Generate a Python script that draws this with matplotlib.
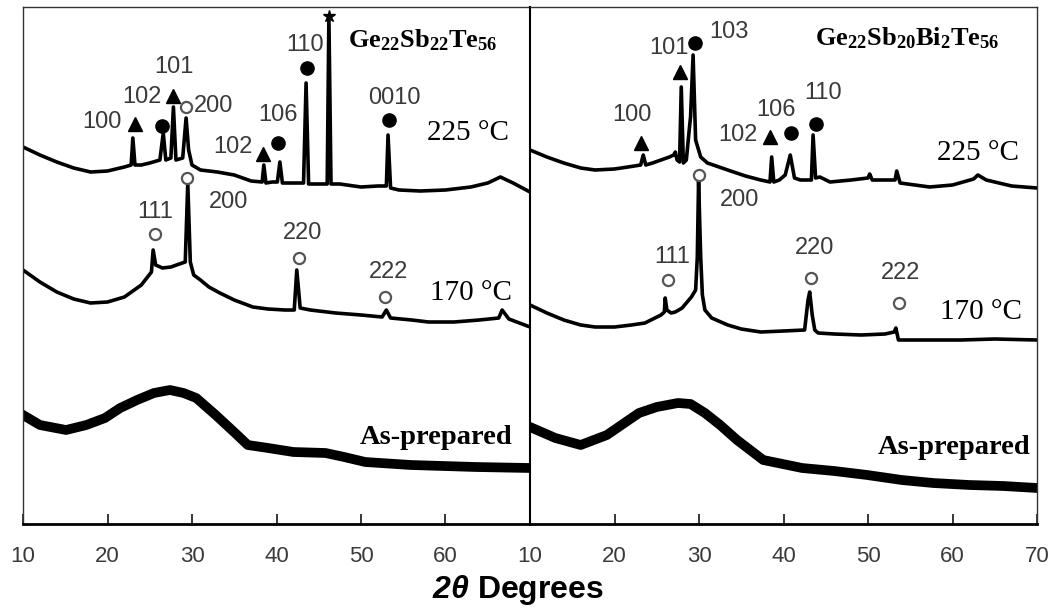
import matplotlib
matplotlib.use("Agg")
import matplotlib.pyplot as plt

plt.rcParams['mathtext.fontset'] = 'custom'
plt.rcParams['mathtext.rm'] = 'Liberation Serif:bold'
plt.rcParams['mathtext.bf'] = 'Liberation Sans:bold:italic'

# XRD patterns, intensity in arbitrary units (offset stacked)
# Ge22Sb22Te56
l225_x = [10, 12, 14, 16, 18, 20, 22, 22.8, 23.0, 23.25, 24, 25, 26.2, 26.6, 26.9, 27.5, 27.8, 28.1,
          28.9, 29.3, 29.6, 30, 31, 33, 35, 37, 38.3, 38.5, 38.75, 39.5, 40.1, 40.4, 40.7, 41.5,
          43.2, 43.5, 43.8, 45, 46.0, 46.2, 46.45, 47.5, 50, 52, 53.0, 53.2, 53.5, 54.5, 57, 60,
          63, 65, 66.5, 68, 70]
l225_y = [377, 369, 362, 356, 352, 353, 357, 359, 386, 359, 359, 361, 364, 391, 364, 366, 417, 364,
          366, 406, 374, 359, 354, 352, 349, 343, 342, 359, 341, 342, 342, 362, 341, 341,
          341, 441, 340, 340, 340, 508, 340, 340, 337, 338, 338, 389, 336, 334, 333, 334,
          337, 341, 347, 341, 332]

l170_x = [10, 12, 14, 16, 18, 20, 22, 24, 25.2, 25.4, 25.7, 26.5, 27.5, 28.5, 29.2, 29.5, 29.8, 30.2,
          31, 32, 33.3, 35, 37.2, 39, 41, 42.1, 42.4, 42.8, 44, 47, 50, 52.5, 53, 53.5, 56, 58,
          61, 64, 66.3, 66.7, 67.5, 70]
l170_y = [254, 242, 232, 225, 221, 222, 227, 239, 252, 274, 259, 256, 257, 260, 262, 341, 262, 249,
          244, 237, 231, 224, 217, 215, 214, 214, 254, 216, 214, 211, 209, 207, 214, 206, 204, 202,
          202, 204, 206, 214, 205, 197]

lap_x = [10, 12, 15.1, 17.5, 19.7, 21.5, 23.5, 25.5, 27.4, 29, 30.5, 32.8, 35.1, 36.6, 39, 42,
         45.8, 48, 50.5, 55.9, 63.6, 70]
lap_y = [109, 99, 94, 99, 106, 116, 124, 131, 134, 131, 126, 109, 91, 79, 76, 72,
         71, 67, 62, 59, 57, 56]

# Ge22Sb20Bi2Te56
r225_x = [10, 12, 14, 16, 17.7, 20, 21.6, 23.1, 23.4, 23.7, 24.5, 25.5, 26.5, 27.0, 27.2, 27.4,
          27.7, 27.9, 28.15, 28.5, 28.9, 29.0, 29.3, 29.6, 30.2, 31, 33.4, 35.5, 37.3, 38.4,
          38.6, 38.85, 39.5, 40.2, 40.8, 41.3, 42, 43.3, 43.5, 43.8, 44.3, 45.5, 48, 50, 50.2,
          50.5, 53.2, 53.4, 53.8, 57.3, 60, 62.5, 63, 64, 67, 70]
r225_y = [374, 367, 361, 356, 354, 355, 357, 359, 369, 359, 361, 364, 367, 369, 372, 364,
          362, 437, 361, 364, 399, 407, 469, 384, 367, 361, 354, 348, 344, 342,
          367, 342, 344, 349, 369, 346, 344, 344, 389, 346, 347, 342, 344, 346, 350,
          344, 344, 353, 341, 337, 339, 345, 349, 344, 338, 336]

r170_x = [10, 12, 14, 16, 17.7, 20, 22, 23.6, 25.5, 25.9, 26.0, 26.2, 26.7, 27.2, 28, 29.1, 29.6,
          29.8, 29.95, 30.2, 30.4, 30.7, 31.5, 33.4, 35, 37.3, 40, 42.5, 42.9, 43.1, 43.4, 43.7,
          44.1, 46, 49.2, 52, 53.1, 53.3, 53.6, 55, 61, 65, 70]
r170_y = [219, 211, 204, 199, 197, 197, 199, 201, 209, 212, 226, 214, 211, 212, 216, 227, 234,
          267, 344, 267, 229, 214, 206, 199, 195, 192, 193, 194, 224, 232, 209, 194,
          191, 190, 189, 190, 192, 196, 184, 184, 184, 185, 184]

rap_x = [10, 13, 16, 19.1, 21, 22.9, 25, 27.5, 29, 30.7, 32.5, 34.5, 37.6, 42.2, 46, 49.9,
         54, 57.7, 62, 66, 70]
rap_y = [97, 86, 79, 89, 100, 111, 117, 121, 120, 111, 99, 84, 64, 56, 53, 49,
         44, 41, 39, 38, 36]

# peak labels: (text, x, y)
l_labels = [("100", 19.35, 402), ("102", 24.1, 427), ("101", 27.9, 457), ("200", 32.5, 418),
            ("102", 34.85, 377), ("106", 40.2, 409), ("110", 43.4, 479), ("0010", 54.0, 426),
            ("200", 34.3, 322), ("111", 25.7, 312), ("220", 43.1, 291), ("222", 53.3, 252)]
l_tri = ([23.25, 27.75, 38.4], [400, 428, 370])
l_dot = ([26.45, 40.2, 43.6, 53.3], [398, 381, 456, 404])
l_ring = ([29.3, 29.4, 25.6, 42.7, 52.8], [417, 346, 290, 266, 227])
l_star = ([46.2], [508])

r_labels = [("100", 22.1, 409), ("101", 26.45, 476), ("103", 33.55, 492), ("102", 34.6, 389),
            ("106", 39.1, 414), ("110", 44.7, 431), ("200", 34.85, 324), ("111", 26.8, 267),
            ("220", 43.7, 276), ("222", 53.8, 251)]
r_tri = ([23.1, 27.75, 38.4], [381, 452, 387])
r_dot = ([29.5, 40.9, 43.85], [481, 391, 400])
r_ring = ([30.0, 26.3, 43.25, 53.7], [349, 244, 246, 221])

ticks = [10, 20, 30, 40, 50, 60, 70]

fig = plt.figure(figsize=(10.49, 6.08), dpi=100)
ax1 = fig.add_axes([23 / 1049, 84 / 608, 507 / 1049, 517 / 608])
ax2 = fig.add_axes([530 / 1049, 84 / 608, 507 / 1049, 517 / 608])

serif = 'Liberation Serif'
sans = 'Liberation Sans'
grey = '#3a3a3a'


def draw_panel(ax, curves, labels, tri, dot, ring, star, formula, f_x, f_y, t225, t170, asp):
    for (x, y), lw in zip(curves, [2.6, 2.6, 7.0]):
        ax.plot(x, y, color='black', lw=lw, solid_joinstyle='round')
    for txt, x, y in labels:
        ax.text(x, y, txt, ha='center', va='center', fontsize=17, family=sans, color=grey)
    ax.plot(*tri, ls='none', marker='^', ms=9.5, color='black')
    ax.plot(*dot, ls='none', marker='o', ms=9.5, color='black')
    ax.plot(*ring, ls='none', marker='o', ms=8, mfc='white', mec='#555555', mew=1.6)
    if star:
        ax.plot(*star, ls='none', marker='*', ms=9, color='black')
    ax.text(f_x, f_y, formula, ha='left', va='center', fontsize=19)
    ax.text(t225[0], t225[1], '225 °C', ha='left', va='center', fontsize=21, family=serif)
    ax.text(t170[0], t170[1], '170 °C', ha='left', va='center', fontsize=21, family=serif)
    ax.text(asp[0], asp[1], 'As-prepared', ha='left', va='center', fontsize=20.5,
            family=serif, fontweight='bold')
    ax.set_xlim(10, 70)
    ax.set_ylim(0, 517)
    ax.set_yticks([])
    ax.set_xticks(ticks)
    ax.tick_params(axis='x', direction='in', length=7, width=1.1, pad=16,
                   labelsize=16, labelcolor=grey)
    for s in ['left', 'top', 'right']:
        ax.spines[s].set_linewidth(1.0)
        ax.spines[s].set_color('#333333')
    ax.spines['bottom'].set_linewidth(2.0)
    for lab in ax.get_xticklabels():
        lab.set_family(sans)


draw_panel(ax1, [(l225_x, l225_y), (l170_x, l170_y), (lap_x, lap_y)], l_labels,
           l_tri, l_dot, l_ring, l_star, r'$\mathrm{Ge_{22}Sb_{22}Te_{56}}$', 48.5, 484,
           (57.8, 391), (58.2, 231), (49.8, 86))
draw_panel(ax2, [(r225_x, r225_y), (r170_x, r170_y), (rap_x, rap_y)], r_labels,
           r_tri, r_dot, r_ring, None, r'$\mathrm{Ge_{22}Sb_{20}Bi_{2}Te_{56}}$', 43.7, 486,
           (58.2, 371), (58.5, 212), (51.1, 76))

ax1.set_xticklabels(['10', '20', '30', '40', '50', '60', ''])
ax1.spines['right'].set_visible(False)
ax2.spines['left'].set_color('black')
ax2.spines['left'].set_linewidth(1.5)

fig.text(518 / 1049, 1 - 590 / 608, r'$\mathbf{2\theta}$ Degrees', ha='center', va='center',
         fontsize=23, fontweight='bold', family=sans)

fig.savefig('out.png', dpi=100)
